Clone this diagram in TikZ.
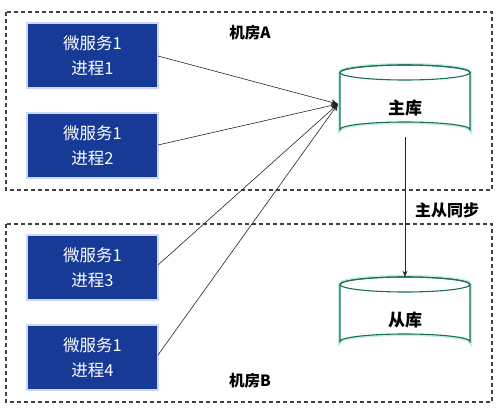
\documentclass[tikz,border=0pt]{standalone}
\usepackage{fontspec}
\setmainfont{Noto Sans CJK SC}
\usetikzlibrary{arrows.meta}
\definecolor{boxblue}{RGB}{22,58,150}
\definecolor{dbteal}{RGB}{22,112,90}
\definecolor{glowteal}{RGB}{195,236,224}
\definecolor{glowblue}{RGB}{205,215,242}
\tikzset{
  room/.style={draw=black!75, line width=1.1pt, dash pattern=on 4pt off 3pt},
  svc/.style={fill=boxblue, draw=glowblue, line width=1.5pt, text=white, minimum width=131pt, minimum height=65pt, inner sep=0pt, align=center, font=\fontsize{16.5}{25}\selectfont},
  lbl/.style={font=\fontsize{15.5}{18}\selectfont\bfseries, text=black},
  dblbl/.style={font=\fontsize{17}{20}\selectfont\bfseries},
  conn/.style={draw=black!85, line width=0.6pt, -{Stealth[length=7pt,width=6pt]}},
}
\begin{document}
\begin{tikzpicture}[x=1pt,y=-1pt]
\useasboundingbox (0,0) rectangle (499,412);
\fill[white] (0,0) rectangle (499,412);
% rooms
\draw[room] (6,12) rectangle (492,190);
\draw[room] (6,224) rectangle (492,402);
\node[lbl] (roomA) at (250,33) {机房A};
\node[lbl] (roomB) at (250,381) {机房B};
% service boxes
\node[svc] (p1) at (92.5,55.5) {微服务1\\进程1};
\node[svc] (p2) at (92.5,145.5) {微服务1\\进程2};
\node[svc] (p3) at (92.5,267.5) {微服务1\\进程3};
\node[svc] (p4) at (92.5,357.5) {微服务1\\进程4};
% cylinders
\foreach \n/\cy/\t in {master/65/主库, slave/277/从库}{
  \begin{scope}[shift={(405,\cy)}]
    \path[draw=glowteal, line width=4pt]
      (-65,7.5) arc[start angle=180,end angle=360,x radius=65,y radius=7.5] -- (65,64.5)
      arc[start angle=0,end angle=-180,x radius=65,y radius=7.5] -- cycle;
    \path[fill=white, draw=dbteal, line width=1.1pt]
      (-65,7.5) arc[start angle=180,end angle=360,x radius=65,y radius=7.5] -- (65,64.5)
      arc[start angle=0,end angle=-180,x radius=65,y radius=7.5] -- cycle;
    \draw[dbteal, line width=1.1pt] (0,7.5) ellipse[x radius=65, y radius=7.5];
    \node[dblbl, minimum width=130pt, minimum height=72pt, inner sep=0pt] (\n) at (0,36) {};
    \node[dblbl] (\n lbl) at (0,43) {\t};
  \end{scope}
}
\coordinate (tip) at (338,104);
\coordinate (p1e) at (158,56);
\coordinate (p2e) at (158,145);
\coordinate (p3e) at (158,265);
\coordinate (p4e) at (158,355);
\draw[conn] (p1e) -- (tip);
\draw[conn] (p2e) -- (tip);
\draw[conn] (p3e) -- (tip);
\draw[conn] (p4e) -- (tip);
\draw[draw=black!85, line width=0.6pt, -{Stealth[length=6pt,width=5pt]}] (master.south) -- (slave.north);
\node[lbl, font=\fontsize{16}{18}\selectfont\bfseries] (sync) at (447,210) {主从同步};
\end{tikzpicture}
\end{document}
